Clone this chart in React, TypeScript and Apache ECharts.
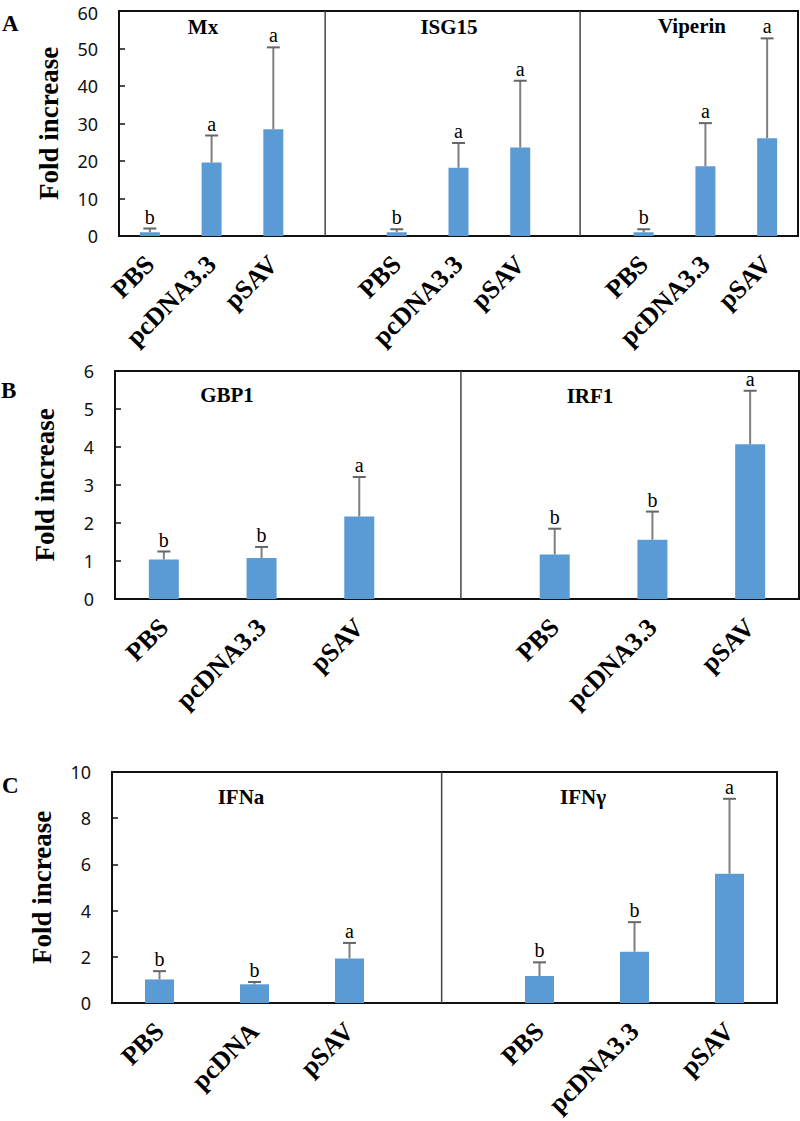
import React, { useEffect, useRef } from "react";
import * as echarts from "echarts";

// ---------- data ----------
const categoriesA = ["PBS", "pcDNA3.3", "pSAV", "", "PBS", "pcDNA3.3", "pSAV", "", "PBS", "pcDNA3.3", "pSAV"];
const meansA = [1.0, 19.6, 28.5, null, 1.0, 18.2, 23.6, null, 1.0, 18.6, 26.1];
const upperA = [2.0, 26.8, 50.3, null, 1.8, 24.8, 41.4, null, 1.8, 30.1, 52.7];
const lettersA = ["b", "a", "a", "", "b", "a", "a", "", "b", "a", "a"];
const genesA = ["Mx", "ISG15", "Viperin"];

const categoriesB = ["PBS", "pcDNA3.3", "pSAV", "", "PBS", "pcDNA3.3", "pSAV"];
const meansB = [1.04, 1.08, 2.17, null, 1.17, 1.56, 4.07];
const upperB = [1.25, 1.37, 3.21, null, 1.85, 2.3, 5.48];
const lettersB = ["b", "b", "a", "", "b", "b", "a"];
const genesB = ["GBP1", "IRF1"];

const categoriesC = ["PBS", "pcDNA", "pSAV", "", "PBS", "pcDNA3.3", "pSAV"];
const meansC = [1.02, 0.81, 1.93, null, 1.17, 2.22, 5.6];
const upperC = [1.38, 0.91, 2.6, null, 1.76, 3.5, 8.84];
const lettersC = ["b", "b", "a", "", "b", "b", "a"];
const genesC = ["IFNa", "IFNγ"];

const yMaxA = 60, yIntA = 10;
const yMaxB = 6, yIntB = 1;
const yMaxC = 10, yIntC = 2;

// divider positions (in category units)
const dividersA = [2.84, 6.97];
const dividersB = [3.04];
const dividersC = [2.97];

const SERIF = '"Liberation Serif", "Times New Roman", serif';
const SANS = '"Noto Sans", "Open Sans", sans-serif';
const BAR = "#5B9BD5";

type Panel = {
  cats: string[];
  means: (number | null)[];
  upper: (number | null)[];
  letters: string[];
  max: number;
  interval: number;
  dividers: number[];
  grid: { left: number; top: number; width: number; height: number };
  barWidth: number;
};

const panels: Panel[] = [
  { cats: categoriesA, means: meansA, upper: upperA, letters: lettersA, max: yMaxA, interval: yIntA, dividers: dividersA, grid: { left: 119, top: 9, width: 679, height: 227 }, barWidth: 20 },
  { cats: categoriesB, means: meansB, upper: upperB, letters: lettersB, max: yMaxB, interval: yIntB, dividers: dividersB, grid: { left: 115, top: 371, width: 684, height: 228 }, barWidth: 30 },
  { cats: categoriesC, means: meansC, upper: upperC, letters: lettersC, max: yMaxC, interval: yIntC, dividers: dividersC, grid: { left: 112, top: 772, width: 665, height: 231 }, barWidth: 29 },
];

function buildOption() {
  const grid: any[] = [];
  const xAxis: any[] = [];
  const yAxis: any[] = [];
  const series: any[] = [];

  panels.forEach((p, gi) => {
    grid.push({ ...p.grid, show: true, borderColor: "#111", borderWidth: 2, backgroundColor: "transparent" });
    xAxis.push({
      type: "category",
      gridIndex: gi,
      data: p.cats,
      axisLine: { onZero: false, lineStyle: { color: "#111", width: 2 } },
      axisTick: { show: false },
      axisLabel: {
        rotate: 45,
        interval: 0,
        margin: 24,
        fontFamily: SERIF,
        fontWeight: "bold",
        fontSize: 26,
        color: "#000",
      },
    });
    xAxis.push({ type: "value", gridIndex: gi, min: -0.5, max: p.cats.length - 0.5, show: false });
    yAxis.push({
      type: "value",
      gridIndex: gi,
      min: 0,
      max: p.max,
      interval: p.interval,
      splitLine: { show: false },
      axisLine: { show: true, onZero: false, lineStyle: { color: "#111", width: 2 } },
      axisTick: { show: true, inside: true, length: 6, lineStyle: { color: "#111", width: 1.5 } },
      axisLabel: {
        fontFamily: SANS,
        fontSize: 18,
        lineHeight: 14,
        color: "#111",
        margin: 21,
        formatter: (v: number) => (gi === 0 && v === p.max ? `{top|${v}}` : `${v}`),
        rich: { top: { fontFamily: SANS, fontSize: 18, lineHeight: 14, color: "#111", padding: [4, 0, 0, 0] } },
      },
      name: "Fold increase",
      nameLocation: "middle",
      nameGap: 57,
      nameTextStyle: { fontFamily: SERIF, fontWeight: "bold", fontSize: 27, color: "#000" },
    });

    series.push({
      type: "bar",
      xAxisIndex: gi * 2,
      yAxisIndex: gi,
      data: p.means.map((v) => (v == null ? "-" : v)),
      barWidth: p.barWidth,
      itemStyle: { color: BAR },
      silent: true,
    });

    const errData: any[] = [];
    const errLetters: string[] = [];
    p.means.forEach((v, i) => {
      const u = p.upper[i];
      if (v != null && u != null) {
        errData.push([i, v, u]);
        errLetters.push(p.letters[i]);
      }
    });
    series.push({
      type: "custom",
      xAxisIndex: gi * 2,
      yAxisIndex: gi,
      data: errData,
      encode: { x: 0, y: [1, 2] },
      silent: true,
      z: 5,
      renderItem: (params: any, api: any) => {
        const x = api.value(0);
        const v = api.value(1);
        const u = api.value(2);
        const p0 = api.coord([x, v]);
        const p1 = api.coord([x, u]);
        const cap = 6.5;
        return {
          type: "group",
          children: [
            { type: "line", shape: { x1: p0[0], y1: p0[1], x2: p1[0], y2: p1[1] }, style: { stroke: "#7f7f7f", lineWidth: 2 } },
            { type: "line", shape: { x1: p1[0] - cap, y1: p1[1], x2: p1[0] + cap, y2: p1[1] }, style: { stroke: "#666", lineWidth: 2 } },
            {
              type: "text",
              x: p1[0],
              y: p1[1] - 2,
              style: {
                text: errLetters[params.dataIndex],
                fill: "#000",
                font: `20px ${SERIF}`,
                textAlign: "center",
                textVerticalAlign: "bottom",
              },
            },
          ],
        };
      },
    });

    p.dividers.forEach((d) => {
      series.push({
        type: "line",
        xAxisIndex: gi * 2 + 1,
        yAxisIndex: gi,
        data: [
          [d, 0],
          [d, p.max],
        ],
        symbol: "none",
        silent: true,
        lineStyle: { color: "#444", width: 1.5 },
      });
    });
  });

  const titleStyle = (text: string, x: number, y: number) => ({
    type: "text",
    x,
    y,
    style: { text, font: `bold 21px ${SERIF}`, fill: "#000", textAlign: "center", textVerticalAlign: "middle" },
  });
  const panelLetter = (text: string, x: number, y: number) => ({
    type: "text",
    x,
    y,
    style: { text, font: `bold 23px ${SERIF}`, fill: "#000", textAlign: "left", textVerticalAlign: "middle" },
  });

  const graphic = [
    panelLetter("A", 2, 23),
    panelLetter("B", 1, 390),
    panelLetter("C", 2, 785),
    titleStyle(genesA[0], 203, 27),
    titleStyle(genesA[1], 449, 27),
    titleStyle(genesA[2], 692, 26),
    titleStyle(genesB[0], 227, 395),
    titleStyle(genesB[1], 590, 396),
    titleStyle(genesC[0], 241, 797),
    titleStyle(genesC[1], 583, 797),
  ];

  return { animation: false, backgroundColor: "#fff", grid, xAxis, yAxis, series, graphic };
}

export default function App() {
  const ref = useRef<HTMLDivElement>(null);
  useEffect(() => {
    if (!ref.current) return;
    const chart = echarts.init(ref.current, undefined, { renderer: "svg" });
    chart.setOption(buildOption() as any);
    return () => chart.dispose();
  }, []);
  return <div ref={ref} style={{ position: "absolute", left: 0, top: 0, width: 800, height: 1121 }} />;
}
